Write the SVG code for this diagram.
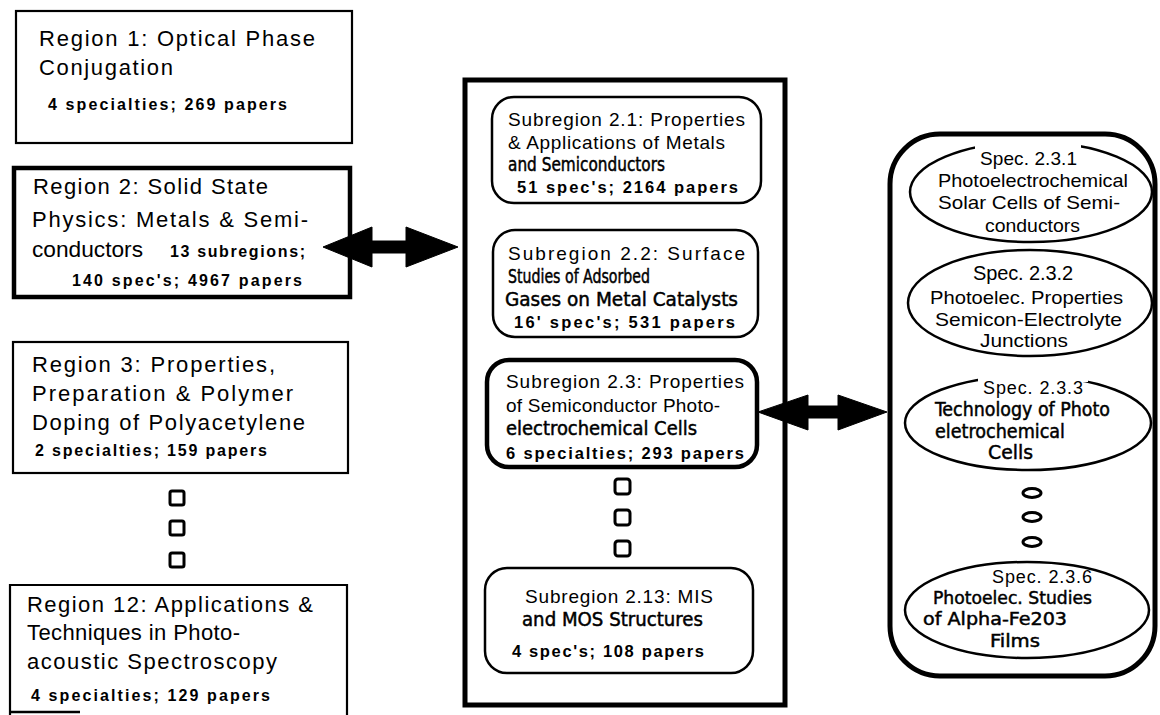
<svg xmlns="http://www.w3.org/2000/svg" width="1160" height="715" viewBox="0 0 1160 715">
<style>
text { font-family: "Liberation Sans", Arial, Helvetica, sans-serif; fill: #000; }
.t { font-size: 22px; }
.c { font-size: 16px; font-weight: bold; }
.m { font-size: 19px; }
.n { font-family: "Liberation Sans Narrow", "DejaVu Sans Condensed", "Liberation Sans", sans-serif; font-size: 19px; stroke: #000; stroke-width: 0.45; }
.mc { font-size: 16.5px; font-weight: bold; }
.r { font-size: 19px; }
.box { fill: #fff; stroke: #000; stroke-width: 2.2; }
.thick { fill: #fff; stroke: #000; stroke-width: 4.5; }
.sub { fill: #fff; stroke: #000; stroke-width: 2.5; }
.ell { fill: none; stroke: #000; stroke-width: 2.5; }
.dot { fill: none; stroke: #000; stroke-width: 3; }
.arrow { fill: #000; stroke: #000; stroke-width: 1; stroke-linejoin: round; }
</style>
<rect x="0" y="0" width="1160" height="715" fill="#fff"/>

<g id="big-box">
  <rect x="465" y="80" width="320" height="625" fill="#fff" stroke="#000" stroke-width="5"/>
</g>
<g id="spec-container">
  <rect x="890" y="134" width="265" height="542" rx="50" ry="50" fill="#fff" stroke="#000" stroke-width="5"/>
</g>

<g id="region1">
  <rect class="box" x="16" y="11" width="336" height="132"/>
  <text class="t" x="39" y="46" textLength="276" lengthAdjust="spacing">Region 1: Optical Phase</text>
  <text class="t" x="39" y="75" textLength="134" lengthAdjust="spacing">Conjugation</text>
  <text class="c" x="48" y="110" textLength="239" lengthAdjust="spacing">4 specialties; 269 papers</text>
</g>

<g id="region2">
  <rect class="thick" x="14" y="168" width="336" height="129"/>
  <text class="t" x="33" y="194" textLength="235" lengthAdjust="spacing">Region 2: Solid State</text>
  <text class="t" x="32" y="227" textLength="276" lengthAdjust="spacing">Physics: Metals &amp; Semi-</text>
  <text class="t" x="32" y="257" textLength="111" lengthAdjust="spacingAndGlyphs">conductors</text>
  <text class="c" x="170" y="257" textLength="135" lengthAdjust="spacing">13 subregions;</text>
  <text class="c" x="72" y="286" textLength="230" lengthAdjust="spacing">140 spec's; 4967 papers</text>
</g>

<g id="region3">
  <rect class="box" x="13" y="342" width="335" height="131"/>
  <text class="t" x="32" y="372" textLength="243" lengthAdjust="spacing">Region 3: Properties,</text>
  <text class="t" x="32" y="401" textLength="261" lengthAdjust="spacing">Preparation &amp; Polymer</text>
  <text class="t" x="32" y="430" textLength="273" lengthAdjust="spacing">Doping of Polyacetylene</text>
  <text class="c" x="35" y="456" textLength="232" lengthAdjust="spacing">2 specialties; 159 papers</text>
</g>

<g id="region-ellipsis">
  <rect class="dot" x="170" y="491" width="14" height="14" rx="2"/>
  <rect class="dot" x="170" y="521" width="14" height="14" rx="2"/>
  <rect class="dot" x="170" y="553" width="14" height="14" rx="2"/>
</g>

<g id="region12">
  <path d="M10,715 V585 H347 V715" fill="none" stroke="#000" stroke-width="2.2"/>
  <path d="M10,712 H80" fill="none" stroke="#000" stroke-width="2.5"/>
  <text class="t" x="27" y="612" textLength="286" lengthAdjust="spacing">Region 12: Applications &amp;</text>
  <text class="t" x="27" y="640" textLength="213" lengthAdjust="spacing">Techniques in Photo-</text>
  <text class="t" x="27" y="669" textLength="250" lengthAdjust="spacing">acoustic Spectroscopy</text>
  <text class="c" x="31" y="701" textLength="239" lengthAdjust="spacing">4 specialties; 129 papers</text>
</g>

<g id="sub2-1">
  <rect class="sub" x="492" y="97" width="269" height="106" rx="22" ry="22"/>
  <text class="m" x="508" y="126" textLength="237" lengthAdjust="spacing">Subregion 2.1: Properties</text>
  <text class="m" x="508" y="149" textLength="217" lengthAdjust="spacing">&amp; Applications of Metals</text>
  <text class="n" x="508" y="171" textLength="157" lengthAdjust="spacingAndGlyphs">and Semiconductors</text>
  <text class="mc" x="517" y="193" textLength="221" lengthAdjust="spacing">51 spec's; 2164 papers</text>
</g>

<g id="sub2-2">
  <rect class="sub" x="493" y="230" width="265" height="107" rx="22" ry="22"/>
  <text class="m" x="508" y="260" textLength="237" lengthAdjust="spacing">Subregion 2.2: Surface</text>
  <text class="n" x="508" y="283" textLength="142" lengthAdjust="spacingAndGlyphs">Studies of Adsorbed</text>
  <text class="n" x="505" y="306" textLength="233" lengthAdjust="spacingAndGlyphs">Gases on Metal Catalysts</text>
  <text class="mc" x="514" y="328" textLength="221" lengthAdjust="spacing">16' spec's; 531 papers</text>
</g>

<g id="sub2-3">
  <rect class="thick" x="487" y="360" width="270" height="107" rx="22" ry="22"/>
  <text class="m" x="506" y="388" textLength="238" lengthAdjust="spacing">Subregion 2.3: Properties</text>
  <text class="m" x="506" y="412" textLength="214" lengthAdjust="spacing">of Semiconductor Photo-</text>
  <text class="n" x="506" y="435" textLength="191" lengthAdjust="spacingAndGlyphs">electrochemical Cells</text>
  <text class="mc" x="506" y="459" textLength="238" lengthAdjust="spacing">6 specialties; 293 papers</text>
</g>

<g id="sub-ellipsis">
  <rect class="dot" x="615" y="479" width="15" height="15" rx="3"/>
  <rect class="dot" x="615" y="510" width="15" height="15" rx="3"/>
  <rect class="dot" x="615" y="541" width="15" height="15" rx="3"/>
</g>

<g id="sub2-13">
  <rect class="sub" x="485" y="568" width="268" height="105" rx="22" ry="22"/>
  <text class="m" x="525" y="603" textLength="188" lengthAdjust="spacing">Subregion 2.13: MIS</text>
  <text class="n" x="522" y="626" textLength="181" lengthAdjust="spacingAndGlyphs">and MOS Structures</text>
  <text class="mc" x="512" y="657" textLength="192" lengthAdjust="spacing">4 spec's; 108 papers</text>
</g>

<g id="spec2-3-1">
  <ellipse class="ell" cx="1031" cy="192" rx="121" ry="50"/>
  <rect x="975" y="137" width="106" height="12" fill="#fff"/>
  <text class="r" x="980" y="165" textLength="97" lengthAdjust="spacing">Spec. 2.3.1</text>
  <text class="r" x="938" y="187" textLength="190" lengthAdjust="spacingAndGlyphs">Photoelectrochemical</text>
  <text class="r" x="938" y="209" textLength="182" lengthAdjust="spacingAndGlyphs">Solar Cells of Semi-</text>
  <text class="r" x="985" y="232" textLength="95" lengthAdjust="spacingAndGlyphs">conductors</text>
</g>

<g id="spec2-3-2">
  <ellipse class="ell" cx="1030" cy="303" rx="122" ry="53"/>
  <text class="r" x="973" y="280" textLength="100" lengthAdjust="spacing" style="font-size:20px">Spec. 2.3.2</text>
  <text class="r" x="930" y="304" textLength="193" lengthAdjust="spacingAndGlyphs">Photoelec. Properties</text>
  <text class="r" x="935" y="326" textLength="187" lengthAdjust="spacingAndGlyphs">Semicon-Electrolyte</text>
  <text class="r" x="980" y="347" textLength="88" lengthAdjust="spacingAndGlyphs">Junctions</text>
</g>

<g id="spec2-3-3">
  <ellipse class="ell" cx="1028" cy="423" rx="123" ry="47"/>
  <rect x="978" y="371" width="110" height="11" fill="#fff"/>
  <text class="r" x="983" y="394" textLength="100" lengthAdjust="spacing" style="font-size:18px">Spec. 2.3.3</text>
  <text class="n" x="935" y="416" textLength="175" lengthAdjust="spacingAndGlyphs">Technology of Photo</text>
  <text class="n" x="935" y="438" textLength="130" lengthAdjust="spacingAndGlyphs">eletrochemical</text>
  <text class="n" x="988" y="459" textLength="45" lengthAdjust="spacingAndGlyphs">Cells</text>
</g>

<g id="spec-ellipsis">
  <ellipse class="dot" cx="1032" cy="493" rx="9" ry="4.5"/>
  <ellipse class="dot" cx="1032" cy="517" rx="9" ry="4.5"/>
  <ellipse class="dot" cx="1032" cy="542" rx="9" ry="4.5"/>
</g>

<g id="spec2-3-6">
  <ellipse class="ell" cx="1027" cy="610" rx="122" ry="48"/>
  <text class="r" x="992" y="583" textLength="100" lengthAdjust="spacing" style="font-size:18px">Spec. 2.3.6</text>
  <text class="n" x="933" y="604" textLength="159" lengthAdjust="spacingAndGlyphs" style="font-size:18px">Photoelec. Studies</text>
  <text class="n" x="923" y="625" textLength="144" lengthAdjust="spacingAndGlyphs" style="font-size:18px">of  Alpha-Fe203</text>
  <text class="n" x="990" y="647" textLength="50" lengthAdjust="spacingAndGlyphs" style="font-size:18px">Films</text>
</g>

<g id="connectors">
  <polygon class="arrow" points="323,247 372,227 372,241 406,241 406,227 458,247 406,267 406,253 372,253 372,267"/>
  <polygon class="arrow" points="758,412 808,395 808,406 838,406 838,395 887,412 838,430 838,418 808,418 808,430"/>
</g>
</svg>
